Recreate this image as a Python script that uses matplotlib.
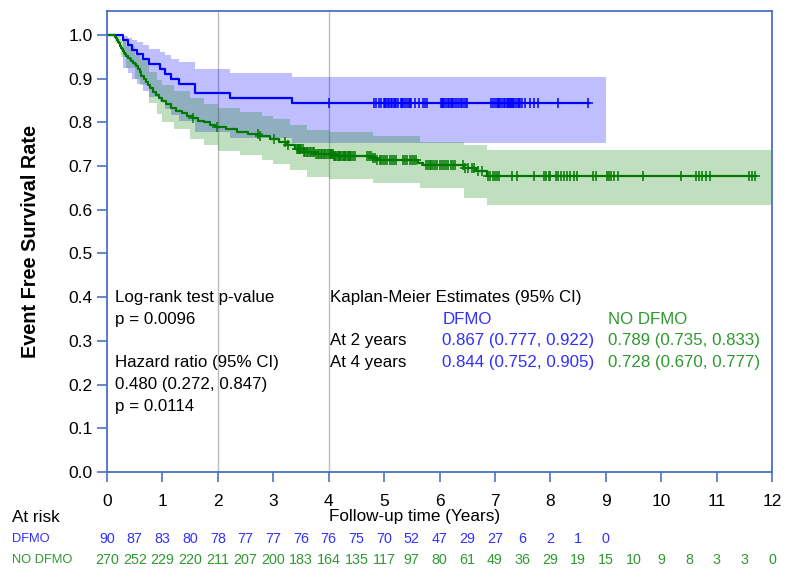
import numpy as np
import matplotlib
matplotlib.use('Agg')
import matplotlib.pyplot as plt
import matplotlib.transforms as transforms

plt.rcParams['font.family'] = ['Liberation Sans', 'DejaVu Sans']

# --- DFMO group: KM step curve (time, survival) and 95% CI ---
dfmo_t = [0.0, 0.29, 0.38, 0.45, 0.55, 0.65, 0.75, 0.95, 1.05, 1.15, 1.30, 1.58, 2.22, 3.34]
dfmo_s = [1.0, 0.9889, 0.9778, 0.9667, 0.9556, 0.9444, 0.9333, 0.9222, 0.9111, 0.9000, 0.8889, 0.8667, 0.8556, 0.8445]
dfmo_hi = [1.0, 0.998, 0.994, 0.989, 0.983, 0.976, 0.969, 0.962, 0.954, 0.946, 0.938, 0.922, 0.913, 0.905]
dfmo_lo = [1.0, 0.924, 0.913, 0.899, 0.887, 0.872, 0.858, 0.846, 0.831, 0.818, 0.804, 0.777, 0.764, 0.752]
dfmo_end = 8.70
dfmo_band_end = 9.0
dfmo_cens = [4.0,
             4.82, 4.86, 4.90, 4.95, 4.99,
             5.02, 5.04, 5.07, 5.09, 5.12, 5.14, 5.17, 5.19, 5.22, 5.26, 5.30, 5.32, 5.35, 5.38,
             5.42, 5.45, 5.47, 5.49,
             5.55, 5.63, 5.70, 5.74, 5.77,
             6.02, 6.04, 6.06, 6.09, 6.12, 6.15, 6.18, 6.20, 6.23, 6.25, 6.28, 6.32, 6.35, 6.38,
             6.40, 6.44, 6.48, 6.50,
             6.93, 6.97,
             7.01, 7.03, 7.05, 7.08, 7.10, 7.13, 7.16, 7.18, 7.21, 7.23, 7.25, 7.27, 7.29, 7.31,
             7.33, 7.35, 7.38, 7.41, 7.44, 7.46, 7.49,
             7.55, 7.64, 7.71, 7.78,
             8.14, 8.68]

# --- NO DFMO group ---
nodfmo_t = [0.0, 0.14, 0.16, 0.18, 0.20, 0.21, 0.23, 0.24, 0.26, 0.27, 0.29, 0.31, 0.32, 0.35,
            0.38, 0.41, 0.44, 0.47, 0.50, 0.53, 0.56, 0.59, 0.62, 0.66, 0.70, 0.74, 0.78, 0.83,
            0.88, 0.94, 0.99, 1.07, 1.16, 1.25, 1.35, 1.45, 1.55, 1.65, 1.75, 1.85, 1.95, 2.15,
            2.35, 2.55, 2.75, 2.95, 3.10, 3.25, 3.40, 3.55, 3.75, 4.10, 4.80, 4.88, 5.62, 5.70,
            6.45, 6.65, 6.85]
nodfmo_s = [1.0, 0.996, 0.993, 0.989, 0.985, 0.981, 0.978, 0.974, 0.970, 0.967, 0.963, 0.959,
            0.956, 0.952, 0.948, 0.944, 0.941, 0.937, 0.933, 0.930, 0.922, 0.915, 0.907, 0.900,
            0.893, 0.885, 0.878, 0.870, 0.863, 0.856, 0.848, 0.841, 0.833, 0.826, 0.822, 0.815,
            0.811, 0.804, 0.800, 0.793, 0.789, 0.785, 0.778, 0.774, 0.770, 0.763, 0.755, 0.748,
            0.740, 0.733, 0.728, 0.724, 0.719, 0.714, 0.708, 0.703, 0.696, 0.689, 0.677]
nodfmo_band_t = [0.0, 0.14, 0.25, 0.35, 0.50, 0.60, 0.75, 0.90, 1.00, 1.20, 1.50, 1.75, 2.00,
                 2.40, 2.80, 3.00, 3.30, 3.60, 4.00, 4.80, 5.65, 6.45, 6.85]
nodfmo_hi = [1.0, 1.0, 0.99, 0.975, 0.955, 0.945, 0.915, 0.897, 0.885, 0.872, 0.855, 0.843,
             0.833, 0.824, 0.815, 0.808, 0.793, 0.782, 0.777, 0.769, 0.756, 0.748, 0.737]
nodfmo_lo = [1.0, 0.985, 0.95, 0.925, 0.90, 0.885, 0.845, 0.82, 0.80, 0.785, 0.762, 0.748,
             0.735, 0.725, 0.715, 0.705, 0.69, 0.675, 0.670, 0.661, 0.649, 0.626, 0.611]
nodfmo_end = 11.72
nodfmo_band_end = 12.0
nodfmo_cens = [1.56, 1.98, 2.72, 2.76, 3.02, 3.22, 3.27,
               3.42, 3.44, 3.46, 3.48, 3.50, 3.53, 3.56, 3.58, 3.61, 3.63, 3.66, 3.69, 3.72,
               3.74, 3.77, 3.80, 3.83, 3.86, 3.88, 3.91, 3.94, 3.97,
               4.00, 4.02, 4.04, 4.06, 4.08, 4.10, 4.12, 4.14, 4.16, 4.18, 4.20, 4.22, 4.25,
               4.27, 4.29, 4.31, 4.34, 4.36, 4.38, 4.41, 4.44, 4.47,
               4.69, 4.72, 4.76, 4.80, 4.84, 4.88, 4.92, 4.95, 4.98, 5.02, 5.06, 5.10, 5.14,
               5.18, 5.21,
               5.34, 5.38, 5.42, 5.46, 5.50, 5.54, 5.58,
               5.76, 5.79, 5.82, 5.85, 5.88, 5.92, 5.96, 6.00, 6.04, 6.08, 6.12, 6.16, 6.20,
               6.24, 6.28,
               6.42, 6.46, 6.52, 6.58, 6.62, 6.70, 6.76,
               6.88, 6.92, 6.96, 7.00, 7.04, 7.08,
               7.30, 7.40, 7.70, 7.89, 7.93, 7.97, 8.00,
               8.10, 8.14, 8.20, 8.25, 8.30, 8.36, 8.42, 8.48,
               8.77, 8.83, 9.02, 9.06, 9.10, 9.14, 9.22, 9.67, 10.35,
               10.62, 10.68, 10.74, 10.80, 10.88, 11.58, 11.64, 11.69]

# --- numbers at risk (every 0.5 years) ---
risk_times = [i * 0.5 for i in range(25)]
risk_dfmo = [90, 87, 83, 80, 78, 77, 77, 76, 76, 75, 70, 52, 47, 29, 27, 6, 2, 1, 0]
risk_nodfmo = [270, 252, 229, 220, 211, 207, 200, 183, 164, 135, 117, 97, 80, 61, 49, 36,
               29, 19, 15, 10, 9, 8, 3, 3, 0]

blue = '#0000ff'
green = '#007a00'
blue_txt = '#3030ff'
green_txt = '#2e9a2e'
frame = '#4a72c0'

fig = plt.figure(figsize=(7.85, 5.69), dpi=100)
ax = fig.add_axes([107 / 785, 1 - 472 / 569, 665 / 785, 461 / 569])


def draw_group(t, s, lo, hi, band_t, band_end, end, cens, line_col, fill_col):
    bt = list(band_t) + [band_end]
    ax.fill_between(bt, list(lo) + [lo[-1]], list(hi) + [hi[-1]], step='post',
                    color=fill_col, alpha=0.25, lw=0)
    ax.step(list(t) + [end], list(s) + [s[-1]], where='post', color=line_col, lw=1.6)
    idx = np.searchsorted(t, cens, side='right') - 1
    ax.plot(cens, np.asarray(s)[idx], ls='none', marker='+', ms=7, mew=1.1, color=line_col)


# reference lines at 2 and 4 years
for xv in (2, 4):
    ax.axvline(xv, color='#bdbdbd', lw=1, zorder=0)

draw_group(dfmo_t, dfmo_s, dfmo_lo, dfmo_hi, dfmo_t, dfmo_band_end, dfmo_end, dfmo_cens,
           blue, '#0000ff')
draw_group(nodfmo_t, nodfmo_s, nodfmo_lo, nodfmo_hi, nodfmo_band_t, nodfmo_band_end,
           nodfmo_end, nodfmo_cens, green, '#008000')

ax.set_xlim(0, 12)
ax.set_ylim(0, 1.0549)
ax.set_xticks(range(13))
ax.set_yticks(np.arange(0, 1.01, 0.1))
ax.set_yticklabels([f'{v:.1f}' for v in np.arange(0, 1.01, 0.1)])
ax.tick_params(axis='both', direction='out', length=7.5, width=1.2, color=frame,
               labelsize=12.5)
ax.tick_params(axis='y', pad=3)
ax.tick_params(axis='x', pad=8)
for sp in ax.spines.values():
    sp.set_color(frame)
    sp.set_linewidth(1.3)

ax.set_ylabel('Event Free Survival Rate', fontsize=14.3, fontweight='bold')
ax.yaxis.set_label_coords(-0.1, 0.5)

# inset statistics
fs = 12.2
ax.text(0.15, 0.40, 'Log-rank test p-value', fontsize=fs, va='center')
ax.text(0.15, 0.35, 'p = 0.0096', fontsize=fs, va='center')
ax.text(0.15, 0.25, 'Hazard ratio (95% CI)', fontsize=fs, va='center')
ax.text(0.15, 0.20, '0.480 (0.272, 0.847)', fontsize=fs, va='center')
ax.text(0.15, 0.15, 'p = 0.0114', fontsize=fs, va='center')

ax.text(4.02, 0.40, 'Kaplan-Meier Estimates (95% CI)', fontsize=fs, va='center')
ax.text(6.05, 0.35, 'DFMO', fontsize=fs, va='center', color=blue_txt)
ax.text(9.04, 0.35, 'NO DFMO', fontsize=fs, va='center', color=green_txt)
ax.text(4.02, 0.30, 'At 2 years', fontsize=fs, va='center')
ax.text(4.02, 0.25, 'At 4 years', fontsize=fs, va='center')
ax.text(6.05, 0.30, '0.867 (0.777, 0.922)', fontsize=fs, va='center', color=blue_txt)
ax.text(6.05, 0.25, '0.844 (0.752, 0.905)', fontsize=fs, va='center', color=blue_txt)
ax.text(9.04, 0.30, '0.789 (0.735, 0.833)', fontsize=fs, va='center', color=green_txt)
ax.text(9.04, 0.25, '0.728 (0.670, 0.777)', fontsize=fs, va='center', color=green_txt)

# at-risk table below the axis
trans = transforms.blended_transform_factory(ax.transData, fig.transFigure)
fig.text(12 / 785, 1 - 517 / 569, 'At risk', fontsize=12.3, va='center')
fig.text(415 / 785, 1 - 517 / 569, 'Follow-up time (Years)', fontsize=12.3, va='center',
         ha='center')
fig.text(12 / 785, 1 - 539 / 569, 'DFMO', fontsize=9.3, va='center', color=blue_txt)
fig.text(12 / 785, 1 - 560 / 569, 'NO DFMO', fontsize=9.3, va='center', color=green_txt)
for t, n in zip(risk_times, risk_dfmo):
    ax.text(t, 1 - 539 / 569, str(n), transform=trans, fontsize=10.3, ha='center',
            va='center', color=blue_txt, clip_on=False)
for t, n in zip(risk_times, risk_nodfmo):
    ax.text(t, 1 - 560 / 569, str(n), transform=trans, fontsize=10.3, ha='center',
            va='center', color=green_txt, clip_on=False)

fig.savefig('out.png', dpi=100)
